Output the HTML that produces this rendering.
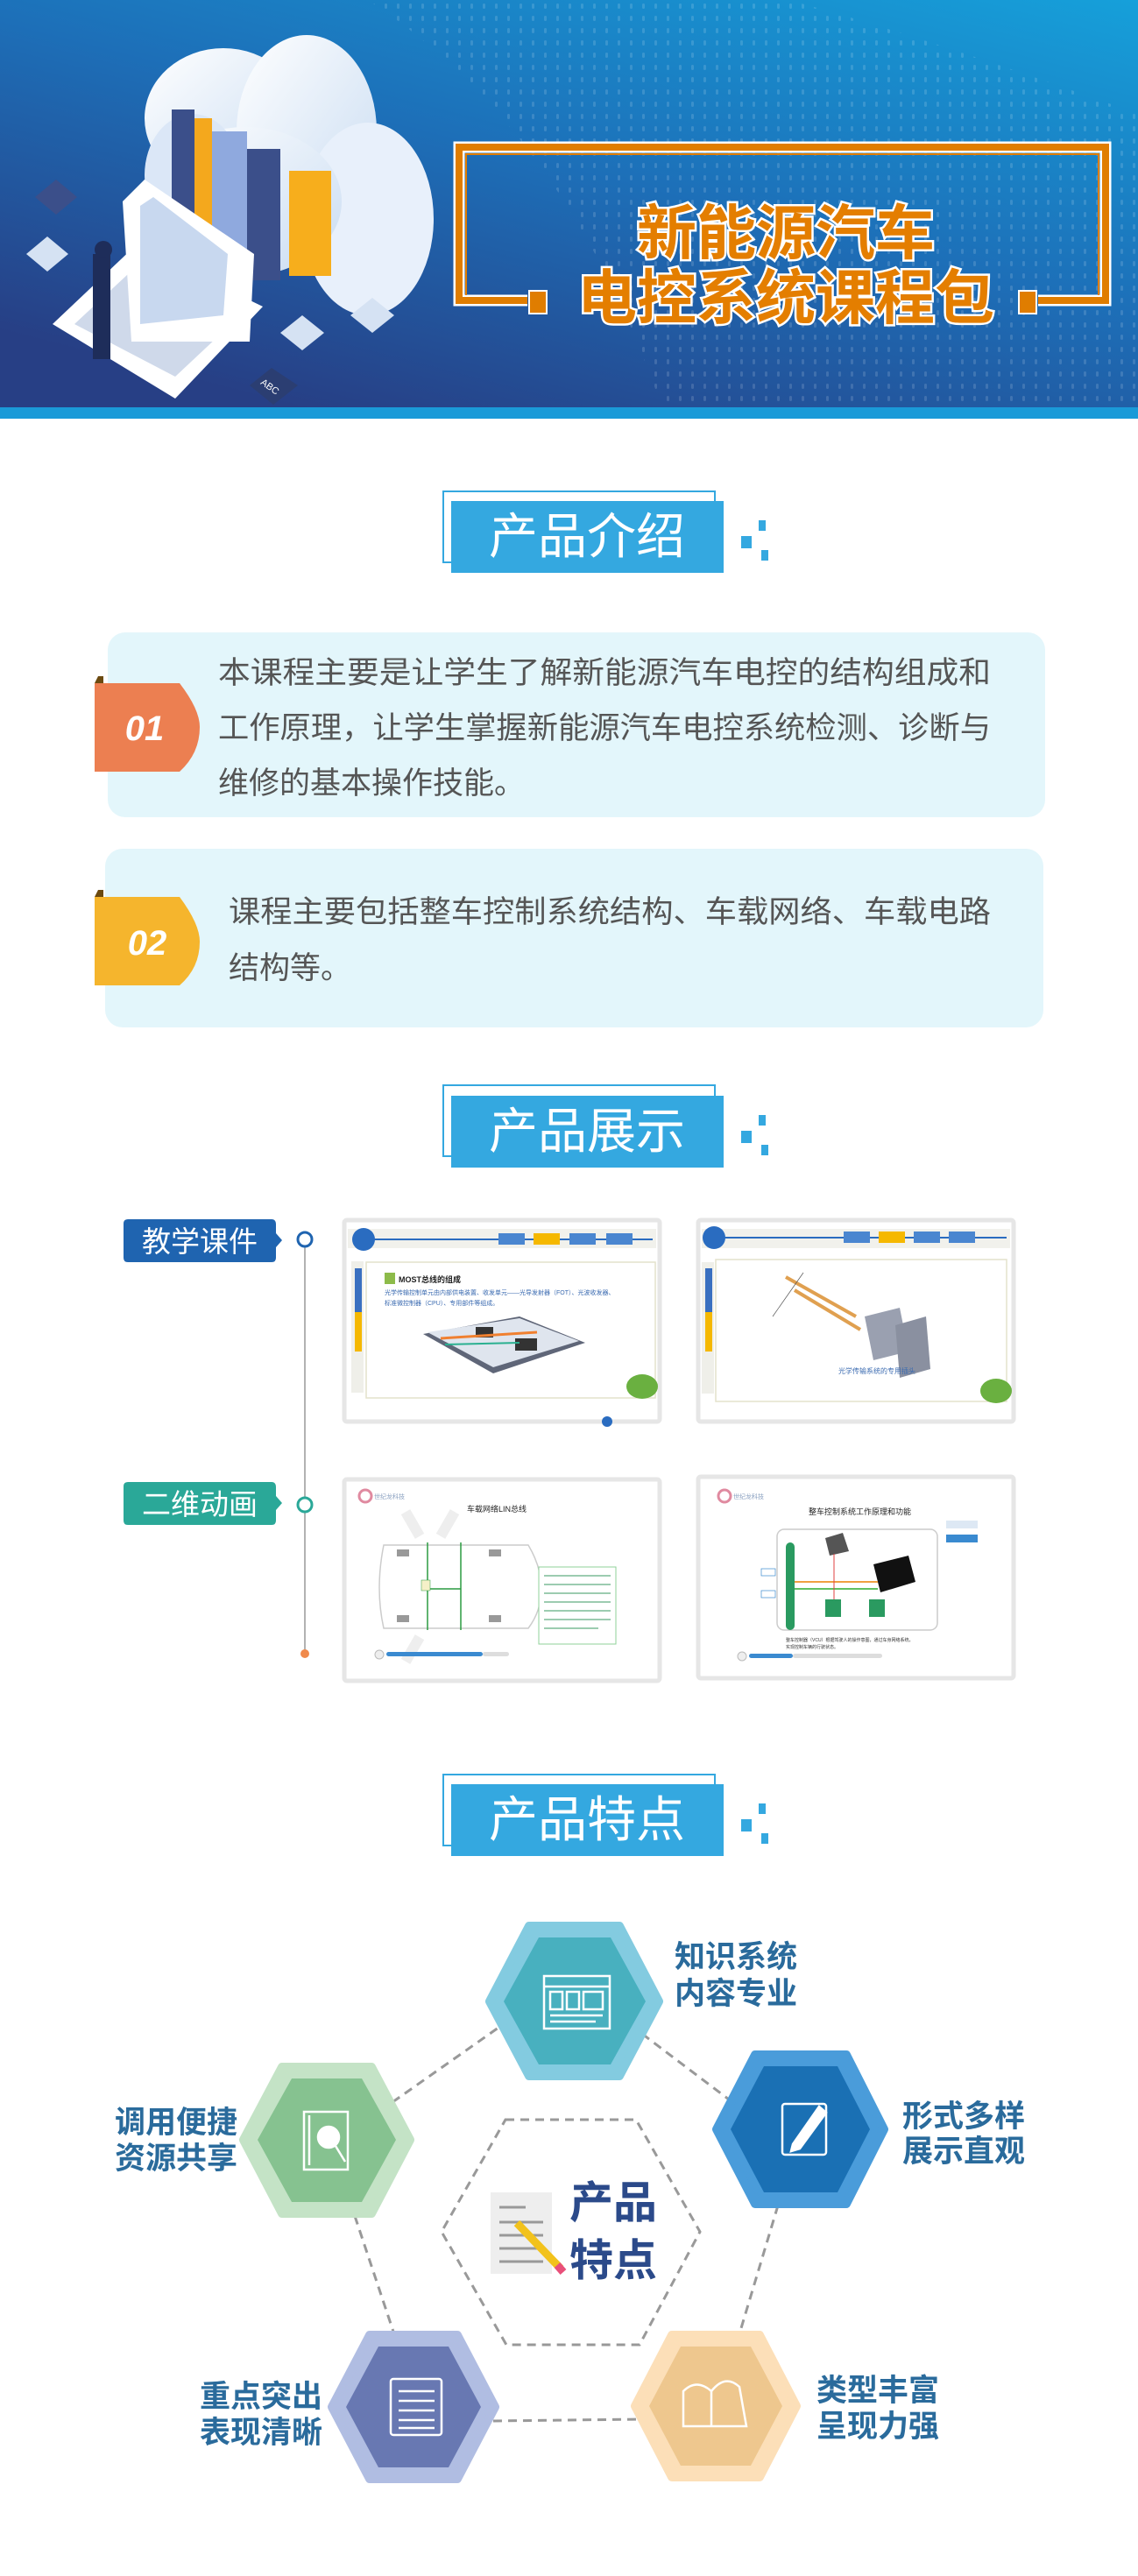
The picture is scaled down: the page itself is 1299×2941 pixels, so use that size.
<!DOCTYPE html>
<html><head><meta charset="utf-8">
<style>
html,body{margin:0;padding:0;background:#fff;}
svg{display:block;}
text{font-family:"Liberation Sans","Noto Sans CJK SC",sans-serif;}
</style></head>
<body>
<svg width="1299" height="2941" viewBox="0 0 1299 2941" xmlns="http://www.w3.org/2000/svg">
<defs>
<linearGradient id="bg" x1="1" y1="0" x2="0.3" y2="1">
<stop offset="0" stop-color="#16a0da"/><stop offset="0.5" stop-color="#1d6fb8"/><stop offset="1" stop-color="#273f85"/>
</linearGradient>
<pattern id="dots" width="14" height="14" patternUnits="userSpaceOnUse">
<rect x="5" y="4" width="3" height="6" rx="1.5" fill="#ffffff" opacity="0.14"/>
</pattern>
<linearGradient id="cloud" x1="0" y1="0" x2="1" y2="1"><stop offset="0" stop-color="#ffffff"/><stop offset="1" stop-color="#c9dcf2"/></linearGradient>
</defs>

<!-- HEADER -->
<rect x="0" y="0" width="1299" height="478" fill="url(#bg)"/>
<path d="M420 0 Q650 150 760 478 L1299 478 L1299 130 Q1050 40 900 0 Z" fill="url(#dots)"/>
<rect x="0" y="465" width="1299" height="13" fill="#1a9ad8"/>
<!-- cloud illustration -->
<g>
<ellipse cx="255" cy="135" rx="90" ry="80" fill="url(#cloud)"/>
<ellipse cx="350" cy="150" rx="80" ry="110" fill="url(#cloud)"/>
<ellipse cx="420" cy="250" rx="75" ry="110" fill="#e8f0fb"/>
<ellipse cx="280" cy="230" rx="110" ry="85" fill="url(#cloud)"/>
<ellipse cx="220" cy="200" rx="55" ry="70" fill="#dbe7f7"/>
<rect x="196" y="125" width="26" height="160" fill="#3b4f8a"/>
<rect x="222" y="135" width="20" height="150" fill="#f4a81d"/>
<rect x="242" y="150" width="40" height="150" fill="#8fa9de"/>
<rect x="282" y="170" width="38" height="150" fill="#3b4f8a"/>
<rect x="330" y="195" width="48" height="120" fill="#f7ae1c"/>
<polygon points="60,370 155,280 300,350 200,455" fill="#ffffff"/>
<polygon points="85,370 160,300 280,355 200,430" fill="#cfd9ea"/>
<polygon points="140,230 165,205 290,290 285,390 150,390" fill="#ffffff"/>
<polygon points="160,235 175,225 260,290 255,360 160,370" fill="#c8d8ef"/>
<rect x="106" y="290" width="20" height="120" fill="#1e2d5a"/>
<circle cx="118" cy="285" r="10" fill="#1e2d5a"/>
<polygon points="40,225 64,205 88,225 64,245" fill="#3b4f8a"/>
<polygon points="30,290 54,270 78,290 54,310" fill="#d5e2f3"/>
<polygon points="320,380 345,360 370,380 345,400" fill="#d5e2f3"/>
<polygon points="400,360 425,340 450,360 425,380" fill="#d5e2f3"/>
<polygon points="285,440 310,420 340,440 312,462" fill="#2b3e72"/>
<text x="298" y="446" font-size="11" fill="#fff" transform="rotate(35 310 440)">ABC</text>
</g>
<!-- orange frame -->
<path d="M602 343 L524 343 L524 168 L1262 168 L1262 343 L1185 343" fill="none" stroke="#fff" stroke-width="13"/>
<path d="M602 343 L524 343 L524 168 L1262 168 L1262 343 L1185 343" fill="none" stroke="#e07d00" stroke-width="8"/>
<path d="M532 337 L532 176 L1254 176 L1254 337" fill="none" stroke="#e07d00" stroke-width="2"/>
<rect x="604" y="332" width="20" height="26" fill="#e07d00" stroke="#fff" stroke-width="2"/>
<rect x="1163" y="332" width="20" height="26" fill="#e07d00" stroke="#fff" stroke-width="2"/>
<g font-weight="bold" fill="#e47e00" stroke="#fff" stroke-width="5" paint-order="stroke" text-anchor="middle">
<text x="897" y="290" font-size="68">新能源汽车</text>
<text x="897" y="364" font-size="68">电控系统课程包</text>
</g>

<!-- SECTION TITLE 1 -->
<g>
<rect x="506" y="561" width="310" height="81" fill="none" stroke="#34a8e0" stroke-width="2"/>
<rect x="515" y="572" width="311" height="82" fill="#34a8e0"/>
<text x="670" y="632" font-size="56" fill="#fff" text-anchor="middle">产品介绍</text>
<rect x="846" y="612" width="12" height="14" fill="#34a8e0"/><rect x="866" y="594" width="8" height="12" fill="#34a8e0"/><rect x="869" y="628" width="8" height="12" fill="#34a8e0"/>
</g>
<!-- card 1 -->
<rect x="123" y="722" width="1070" height="211" rx="20" fill="#e3f6fb"/>
<path d="M108 780 L112 772 L118 772 L118 780 Z" fill="#6b4a10"/>
<path d="M108 780 L205 780 Q228 810 228 830 Q228 860 205 881 L108 881 Z" fill="#ec7f51"/>
<text x="165" y="845" font-size="40" font-weight="bold" font-style="italic" fill="#fff" text-anchor="middle">01</text>
<g font-size="35" fill="#555">
<text x="249" y="780" textLength="882" lengthAdjust="spacingAndGlyphs">本课程主要是让学生了解新能源汽车电控的结构组成和</text>
<text x="249" y="843" textLength="882" lengthAdjust="spacingAndGlyphs">工作原理，让学生掌握新能源汽车电控系统检测、诊断与</text>
<text x="249" y="906">维修的基本操作技能。</text>
</g>
<!-- card 2 -->
<rect x="120" y="969" width="1071" height="204" rx="20" fill="#e3f6fb"/>
<path d="M108 1024 L112 1016 L118 1016 L118 1024 Z" fill="#6b4a10"/>
<path d="M108 1024 L205 1024 Q228 1055 228 1075 Q228 1105 205 1125 L108 1125 Z" fill="#f5b52d"/>
<text x="168" y="1090" font-size="40" font-weight="bold" font-style="italic" fill="#fff" text-anchor="middle">02</text>
<g font-size="35" fill="#555">
<text x="261" y="1053" textLength="870" lengthAdjust="spacingAndGlyphs">课程主要包括整车控制系统结构、车载网络、车载电路</text>
<text x="261" y="1117">结构等。</text>
</g>

<!-- SECTION TITLE 2 -->
<g>
<rect x="506" y="1239" width="310" height="81" fill="none" stroke="#34a8e0" stroke-width="2"/>
<rect x="515" y="1251" width="311" height="82" fill="#34a8e0"/>
<text x="670" y="1311" font-size="56" fill="#fff" text-anchor="middle">产品展示</text>
<rect x="846" y="1291" width="12" height="14" fill="#34a8e0"/><rect x="866" y="1273" width="8" height="12" fill="#34a8e0"/><rect x="869" y="1307" width="8" height="12" fill="#34a8e0"/>
</g>
<!-- timeline -->
<line x1="348" y1="1415" x2="348" y2="1888" stroke="#999" stroke-width="1.5"/>
<circle cx="348" cy="1415" r="8" fill="#fff" stroke="#1f64b0" stroke-width="3"/>
<circle cx="348" cy="1718" r="8" fill="#fff" stroke="#2aa898" stroke-width="3"/>
<circle cx="348" cy="1888" r="5" fill="#f08a4b"/>
<path d="M146 1392 L310 1392 Q315 1392 315 1398 L315 1408 L322 1416 L315 1424 L315 1436 Q315 1441 310 1441 L146 1441 Q141 1441 141 1436 L141 1397 Q141 1392 146 1392 Z" fill="#1f64b0"/>
<text x="228" y="1429" font-size="33" fill="#fff" text-anchor="middle">教学课件</text>
<path d="M146 1692 L310 1692 Q315 1692 315 1698 L315 1708 L322 1716 L315 1724 L315 1736 Q315 1741 310 1741 L146 1741 Q141 1741 141 1736 L141 1697 Q141 1692 146 1692 Z" fill="#2aa898"/>
<text x="228" y="1729" font-size="33" fill="#fff" text-anchor="middle">二维动画</text>

<!-- screenshot 1 -->
<g transform="translate(393 1393)">
<rect x="0" y="0" width="360" height="230" rx="3" fill="#fff" stroke="#e6e6e6" stroke-width="5"/>
<rect x="4" y="10" width="352" height="22" fill="#f1f1ec"/>
<line x1="20" y1="22" x2="352" y2="22" stroke="#2a6cc0" stroke-width="2"/>
<circle cx="22" cy="22" r="13" fill="#2a6cc0"/>
<rect x="176" y="15" width="30" height="13" fill="#4a86d0"/><rect x="216" y="15" width="30" height="13" fill="#f5b800"/><rect x="257" y="15" width="30" height="13" fill="#4a86d0"/><rect x="299" y="15" width="30" height="13" fill="#4a86d0"/>
<rect x="8" y="47" width="14" height="150" fill="#efefe9"/>
<rect x="12" y="55" width="8" height="50" fill="#3a70c0"/><rect x="12" y="105" width="8" height="45" fill="#f5b800"/>
<rect x="25" y="48" width="330" height="155" fill="#fff" stroke="#e4e2cc" stroke-width="1.5"/>
<rect x="46" y="60" width="12" height="13" fill="#8dbb4a"/>
<text x="62" y="71" font-size="9" font-weight="bold" fill="#222">MOST总线的组成</text>
<text x="46" y="85" font-size="7" fill="#3a6ab0">光学传输控制单元由内部供电装置、收发单元——光导发射器（FOT）、光波收发器、</text>
<text x="46" y="97" font-size="7" fill="#3a6ab0">标准微控制器（CPU）、专用部件等组成。</text>
<polygon points="90,130 200,110 275,140 170,175" fill="#5f6678"/>
<polygon points="95,128 200,112 268,138 170,168" fill="#dfe5ee"/>
<rect x="150" y="122" width="20" height="12" fill="#333"/><rect x="195" y="135" width="25" height="14" fill="#333"/>
<line x1="110" y1="135" x2="220" y2="128" stroke="#f08030" stroke-width="3"/>
<line x1="115" y1="142" x2="200" y2="140" stroke="#2ab090" stroke-width="2"/>
<ellipse cx="340" cy="190" rx="18" ry="14" fill="#6ab040"/>
<circle cx="300" cy="230" r="6" fill="#2a6cc0"/>
</g>
<!-- screenshot 2 -->
<g transform="translate(797 1393)">
<rect x="0" y="0" width="360" height="230" rx="3" fill="#fff" stroke="#e6e6e6" stroke-width="5"/>
<rect x="4" y="10" width="352" height="22" fill="#f1f1ec"/>
<line x1="20" y1="20" x2="352" y2="20" stroke="#2a6cc0" stroke-width="2"/>
<circle cx="18" cy="20" r="13" fill="#2a6cc0"/>
<rect x="166" y="13" width="30" height="13" fill="#4a86d0"/><rect x="206" y="13" width="30" height="13" fill="#f5b800"/><rect x="246" y="13" width="30" height="13" fill="#4a86d0"/><rect x="286" y="13" width="30" height="13" fill="#4a86d0"/>
<rect x="4" y="48" width="14" height="150" fill="#efefe9"/>
<rect x="8" y="55" width="8" height="50" fill="#3a70c0"/><rect x="8" y="105" width="8" height="45" fill="#f5b800"/>
<rect x="20" y="45" width="332" height="162" fill="#fff" stroke="#e4e2cc" stroke-width="1.5"/>
<polygon points="190,110 230,100 240,150 200,160" fill="#9aa0b0"/>
<polygon points="225,120 260,110 265,170 230,180" fill="#8a90a0"/>
<line x1="100" y1="65" x2="180" y2="110" stroke="#e0a050" stroke-width="4"/>
<line x1="110" y1="80" x2="185" y2="125" stroke="#e0a050" stroke-width="4"/>
<line x1="85" y1="110" x2="120" y2="60" stroke="#555" stroke-width="0.7"/>
<text x="160" y="175" font-size="8" fill="#3a6ab0">光学传输系统的专用插头</text>
<ellipse cx="340" cy="195" rx="18" ry="14" fill="#6ab040"/>
</g>
<!-- screenshot 3 -->
<g transform="translate(393 1689)">
<rect x="0" y="0" width="360" height="230" rx="3" fill="#fff" stroke="#e6e6e6" stroke-width="5"/>
<circle cx="24" cy="19" r="7" fill="none" stroke="#e08aa0" stroke-width="3"/>
<text x="34" y="22" font-size="7" fill="#8aa0c0">世纪龙科技</text>
<text x="140" y="37" font-size="9" fill="#222">车载网络LIN总线</text>
<path d="M45 75 L210 75 Q225 100 225 125 Q225 150 210 170 L45 170 Q35 125 45 75 Z" fill="#fff" stroke="#ccc" stroke-width="1.5"/>
<line x1="95" y1="72" x2="95" y2="172" stroke="#2a9a40" stroke-width="1.5"/>
<line x1="133" y1="72" x2="133" y2="172" stroke="#2a9a40" stroke-width="1.5"/>
<line x1="95" y1="125" x2="133" y2="125" stroke="#2a9a40" stroke-width="1.5"/>
<rect x="60" y="80" width="14" height="8" fill="#999"/><rect x="60" y="155" width="14" height="8" fill="#999"/><rect x="165" y="80" width="14" height="8" fill="#999"/><rect x="165" y="155" width="14" height="8" fill="#999"/>
<rect x="88" y="115" width="10" height="12" fill="#f5f0c8" stroke="#2a9a40" stroke-width="0.5"/>
<rect x="222" y="100" width="88" height="88" fill="#fff" stroke="#8fd09a" stroke-width="1"/>
<g stroke="#3a9a60" stroke-width="1">
<line x1="228" y1="110" x2="304" y2="110"/><line x1="228" y1="120" x2="304" y2="120"/><line x1="228" y1="130" x2="304" y2="130"/><line x1="228" y1="140" x2="304" y2="140"/><line x1="228" y1="150" x2="304" y2="150"/><line x1="228" y1="160" x2="304" y2="160"/><line x1="228" y1="170" x2="290" y2="170"/>
</g>
<rect x="72" y="35" width="12" height="32" fill="#eee" transform="rotate(-30 78 51)"/>
<rect x="112" y="35" width="12" height="32" fill="#eee" transform="rotate(30 118 51)"/>
<rect x="72" y="178" width="12" height="32" fill="#eee" transform="rotate(30 78 194)"/>
<circle cx="40" cy="200" r="5" fill="#eee" stroke="#bbb"/>
<rect x="48" y="197" width="110" height="5" rx="2.5" fill="#3a8ad0"/>
<rect x="158" y="197" width="30" height="5" rx="2.5" fill="#ddd"/>
</g>
<!-- screenshot 4 -->
<g transform="translate(797 1686)">
<rect x="0" y="0" width="360" height="230" rx="3" fill="#fff" stroke="#e6e6e6" stroke-width="5"/>
<circle cx="30" cy="22" r="7" fill="none" stroke="#e08aa0" stroke-width="3"/>
<text x="40" y="25" font-size="7" fill="#8aa0c0">世纪龙科技</text>
<text x="126" y="43" font-size="9" fill="#222">整车控制系统工作原理和功能</text>
<rect x="283" y="50" width="36" height="9" fill="#dde8f4"/><rect x="283" y="66" width="36" height="9" fill="#3a8ad0"/>
<rect x="90" y="60" width="183" height="115" rx="8" fill="#fff" stroke="#ccc" stroke-width="1.5"/>
<rect x="100" y="75" width="10" height="100" rx="5" fill="#2a9a60"/>
<rect x="145" y="140" width="18" height="20" fill="#2a9a60"/><rect x="195" y="140" width="18" height="20" fill="#2a9a60"/>
<polygon points="200,100 240,90 248,120 208,132" fill="#111"/>
<polygon points="145,70 165,64 172,85 150,90" fill="#555"/>
<line x1="110" y1="120" x2="205" y2="120" stroke="#f0a040" stroke-width="2"/>
<line x1="110" y1="128" x2="205" y2="128" stroke="#60c060" stroke-width="2"/>
<line x1="155" y1="88" x2="155" y2="140" stroke="#e04040" stroke-width="1"/>
<rect x="72" y="105" width="16" height="8" fill="#fff" stroke="#3a8ad0" stroke-width="0.7"/><rect x="72" y="130" width="16" height="8" fill="#fff" stroke="#3a8ad0" stroke-width="0.7"/>
<text x="100" y="188" font-size="5" fill="#333">整车控制器（VCU）根据驾驶人的操作意图，通过车身网络系统，</text>
<text x="100" y="196" font-size="5" fill="#333">实现控制车辆的行驶状态。</text>
<circle cx="50" cy="205" r="5" fill="#eee" stroke="#bbb"/>
<rect x="58" y="202" width="50" height="5" rx="2.5" fill="#3a8ad0"/>
<rect x="108" y="202" width="102" height="5" rx="2.5" fill="#ddd"/>
</g>

<!-- SECTION TITLE 3 -->
<g>
<rect x="506" y="2026" width="310" height="81" fill="none" stroke="#34a8e0" stroke-width="2"/>
<rect x="515" y="2037" width="311" height="82" fill="#34a8e0"/>
<text x="670" y="2097" font-size="56" fill="#fff" text-anchor="middle">产品特点</text>
<rect x="846" y="2077" width="12" height="14" fill="#34a8e0"/><rect x="866" y="2059" width="8" height="12" fill="#34a8e0"/><rect x="869" y="2093" width="8" height="12" fill="#34a8e0"/>
</g>

<!-- dashed connectors -->
<g stroke="#999" stroke-width="3" stroke-dasharray="10 7" fill="none">
<line x1="448" y1="2400" x2="576" y2="2310"/>
<line x1="733" y1="2322" x2="836" y2="2400"/>
<line x1="888" y1="2518" x2="843" y2="2668"/>
<line x1="563" y1="2764" x2="733" y2="2762"/>
<line x1="405" y1="2530" x2="450" y2="2665"/>
<polygon points="577,2420 726,2420 799,2548 730,2677 578,2677 504,2548"/>
</g>

<!-- hexes -->
<g stroke-linejoin="round">
<polygon points="559,2285 604,2199 707,2199 752,2285 707,2370 604,2370" fill="#83cbe0" stroke="#83cbe0" stroke-width="10"/>
<polygon points="575,2285 615,2212 697,2212 737,2285 697,2357 615,2357" fill="#48b0bf"/>
<polygon points="818,2431 862,2346 966,2346 1009,2431 966,2516 862,2516" fill="#4a9cda" stroke="#4a9cda" stroke-width="10"/>
<polygon points="834,2431 872,2359 956,2359 993,2431 956,2503 872,2503" fill="#1a70b4"/>
<polygon points="278,2443 322,2360 424,2360 468,2443 424,2527 322,2527" fill="#c4e3c6" stroke="#c4e3c6" stroke-width="10"/>
<polygon points="294,2443 333,2373 413,2373 452,2443 413,2514 333,2514" fill="#86c290"/>
<polygon points="379,2748 422,2666 522,2666 565,2748 522,2830 422,2830" fill="#b0bde2" stroke="#b0bde2" stroke-width="10"/>
<polygon points="395,2748 432,2679 512,2679 549,2748 512,2817 432,2817" fill="#6878b2"/>
<polygon points="725,2747 767,2666 867,2666 909,2747 867,2828 767,2828" fill="#fcdfb8" stroke="#fcdfb8" stroke-width="10"/>
<polygon points="741,2747 777,2679 857,2679 893,2747 857,2815 777,2815" fill="#eec78e"/>
</g>
<!-- icons -->
<g fill="none" stroke="#fff" stroke-width="2.5">
<rect x="621" y="2256" width="75" height="60"/>
<line x1="621" y1="2268" x2="696" y2="2268"/>
<rect x="628" y="2274" width="14" height="20"/><rect x="647" y="2274" width="14" height="20"/><rect x="666" y="2274" width="22" height="20"/>
<line x1="628" y1="2301" x2="688" y2="2301"/><line x1="628" y1="2308" x2="680" y2="2308"/>
<rect x="893" y="2402" width="50" height="58" rx="3"/>
<path d="M905 2448 L935 2405 L943 2412 L913 2453 L903 2456 Z" fill="#fff"/>
<rect x="347" y="2411" width="50" height="66"/><line x1="353" y1="2415" x2="353" y2="2472"/>
<circle cx="375" cy="2440" r="12" fill="#fff"/><line x1="383" y1="2450" x2="394" y2="2468"/>
<rect x="446" y="2716" width="58" height="64" rx="3"/>
<line x1="455" y1="2730" x2="496" y2="2730"/><line x1="455" y1="2741" x2="496" y2="2741"/><line x1="455" y1="2752" x2="496" y2="2752"/><line x1="455" y1="2763" x2="496" y2="2763"/><line x1="455" y1="2772" x2="496" y2="2772"/>
<path d="M780 2770 L780 2730 Q795 2715 812 2730 Q828 2710 844 2725 L852 2770 Z"/>
<line x1="812" y1="2730" x2="812" y2="2770"/>
</g>
<!-- center doc -->
<rect x="560" y="2503" width="70" height="93" fill="#eeeeee"/>
<g stroke="#999" stroke-width="3"><line x1="570" y1="2520" x2="600" y2="2520"/><line x1="570" y1="2537" x2="620" y2="2537"/><line x1="570" y1="2552" x2="620" y2="2552"/><line x1="570" y1="2567" x2="620" y2="2567"/><line x1="570" y1="2582" x2="620" y2="2582"/></g>
<line x1="590" y1="2538" x2="640" y2="2590" stroke="#f2c21c" stroke-width="9"/>
<line x1="636" y1="2586" x2="643" y2="2594" stroke="#e8507a" stroke-width="9"/>
<g font-weight="bold" fill="#2b4a8a" font-size="50">
<text x="650" y="2532">产品</text>
<text x="650" y="2598">特点</text>
</g>
<!-- labels -->
<g font-weight="bold" fill="#2a6b9c" font-size="35">
<text x="770" y="2246">知识系统</text><text x="770" y="2288">内容专业</text>
<text x="1030" y="2428">形式多样</text><text x="1030" y="2468">展示直观</text>
<text x="131" y="2435">调用便捷</text><text x="131" y="2476">资源共享</text>
<text x="228" y="2748">重点突出</text><text x="228" y="2789">表现清晰</text>
<text x="932" y="2741">类型丰富</text><text x="932" y="2782">呈现力强</text>
</g>
</svg>
</body></html>
